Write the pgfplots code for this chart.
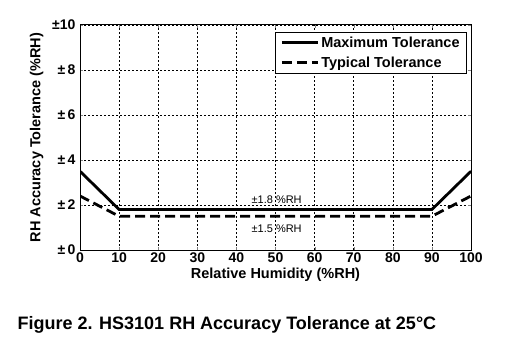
\documentclass[border=0pt]{standalone}
\usepackage{fontspec}
\setmainfont{Liberation Sans}
\usepackage{pgfplots}
\pgfplotsset{compat=1.18}
\begin{document}
\begin{tikzpicture}[x=1pt,y=1pt]
\useasboundingbox (0,0) rectangle (511,362);
\begin{axis}[
  at={(80pt,112pt)}, anchor=south west,
  scale only axis, width=391pt, height=225pt,
  xmin=0, xmax=100, ymin=0, ymax=10,
  xtick={0,10,...,100},
  ytick={0,2,4,6,8,10},
  yticklabels={±\,0,±\,2,±\,4,±\,6,±\,8,±10},
  xticklabels={0,10,20,30,40,50,60,70,80,90,100},
  tick label style={font=\fontsize{14}{16}\selectfont\bfseries},
  xticklabel style={yshift=1pt},
  yticklabel style={xshift=-1pt},
  tick align=inside, major tick length=3pt,
  axis line style={line width=1pt},
  grid=major,
  major grid style={black, line width=0.6pt, dash pattern=on 2pt off 2pt},
  xlabel={Relative Humidity (\%RH)},
  ylabel={RH Accuracy Tolerance (\%RH)},
  label style={font=\fontsize{14.5}{16}\selectfont\bfseries},
  xlabel style={yshift=1pt},
  ylabel style={yshift=2pt},
  legend style={at={(0.99,0.97)}, anchor=north east, draw=black, line width=1pt,
    font=\fontsize{14.5}{16}\selectfont\bfseries, row sep=4pt,
    inner xsep=5pt, inner ysep=2.5pt},
  legend cell align=left,
  legend image code/.code={\draw[#1, line width=3pt] (0pt,0pt) -- (36pt,0pt);},
]
\addplot[black, line width=2.8pt, line join=miter] coordinates {(0,3.5) (10,1.8) (90,1.8) (100,3.5)};
\addlegendentry{Maximum Tolerance}
\addplot[black, line width=2.8pt, dash pattern=on 10pt off 5pt] coordinates {(0,2.4) (10,1.5) (90,1.5) (100,2.4)};
\addlegendentry{Typical Tolerance}
\node[font=\fontsize{11}{13}\selectfont, anchor=base] at (axis cs:50.3,2.08) {±1.8 \%RH};
\node[font=\fontsize{11}{13}\selectfont, anchor=base] at (axis cs:50.3,0.8) {±1.5 \%RH};
\end{axis}
\node[anchor=base west, font=\fontsize{18}{20}\selectfont\bfseries] at (14,33) {Figure 2. HS3101 RH Accuracy Tolerance at 25°C};
\end{tikzpicture}
\end{document}
